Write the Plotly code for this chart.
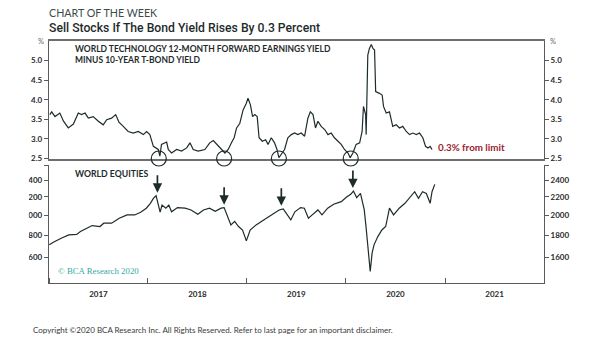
import math
import pandas as pd
import plotly.graph_objects as go

# ---------------- data ----------------
yield_dates = [
    "2017-01-04", "2017-01-11", "2017-01-23", "2017-02-10", "2017-02-23", "2017-03-13",
    "2017-04-01", "2017-04-19", "2017-05-01", "2017-05-14", "2017-05-26", "2017-06-13",
    "2017-07-02", "2017-07-20", "2017-08-02", "2017-08-20", "2017-09-04", "2017-09-16",
    "2017-10-02", "2017-10-20", "2017-11-08", "2017-11-26", "2017-12-15", "2017-12-27",
    "2018-01-08", "2018-01-21", "2018-02-08", "2018-02-14", "2018-02-20", "2018-03-11",
    "2018-03-17", "2018-03-29", "2018-04-17", "2018-05-05", "2018-05-24", "2018-06-05",
    "2018-06-17", "2018-07-05", "2018-07-30", "2018-08-17", "2018-08-30", "2018-09-11",
    "2018-09-30", "2018-10-12", "2018-10-24", "2018-11-05", "2018-11-15", "2018-11-24",
    "2018-12-06", "2018-12-18", "2018-12-30", "2019-01-05", "2019-01-14", "2019-01-22",
    "2019-01-30", "2019-02-08", "2019-02-15", "2019-02-27", "2019-03-11", "2019-03-20",
    "2019-04-01", "2019-04-13", "2019-04-22", "2019-04-29", "2019-05-08", "2019-05-20",
    "2019-06-01", "2019-06-14", "2019-06-26", "2019-07-08", "2019-07-20", "2019-08-02",
    "2019-08-14", "2019-08-23", "2019-09-02", "2019-09-11", "2019-09-20", "2019-10-02",
    "2019-10-15", "2019-10-27", "2019-11-08", "2019-11-20", "2019-12-03", "2019-12-15",
    "2019-12-27", "2020-01-09", "2020-01-17", "2020-01-27", "2020-02-08", "2020-02-21",
    "2020-03-01", "2020-03-06", "2020-03-14", "2020-03-16", "2020-03-22", "2020-03-28",
    "2020-04-04", "2020-04-10", "2020-04-16", "2020-04-20", "2020-05-02", "2020-05-14",
    "2020-05-19", "2020-05-29", "2020-06-10", "2020-06-16", "2020-06-22", "2020-07-05",
    "2020-07-17", "2020-07-29", "2020-08-11", "2020-08-23", "2020-09-04", "2020-09-17",
    "2020-09-29", "2020-10-11", "2020-10-21", "2020-10-30", "2020-11-07", "2020-11-14",
]
yield_spread = [
    3.62, 3.69, 3.57, 3.66, 3.46, 3.28,
    3.38, 3.66, 3.62, 3.66, 3.53, 3.57,
    3.45, 3.36, 3.49, 3.53, 3.62, 3.43,
    3.32, 3.19, 3.15, 3.19, 3.11, 3.19,
    3.11, 2.81, 2.73, 2.56, 2.86, 2.92,
    2.73, 2.64, 2.73, 2.69, 2.77, 2.90,
    2.73, 2.69, 2.73, 2.90, 2.96, 2.86,
    2.73, 2.64, 2.73, 2.90, 3.03, 3.28,
    3.40, 3.74, 3.91, 4.04, 3.87, 3.57,
    3.62, 3.57, 3.03, 2.94, 2.98, 2.86,
    3.03, 2.90, 2.73, 2.52, 2.60, 2.73,
    3.03, 3.11, 3.15, 3.11, 3.15, 3.07,
    3.53, 3.69, 3.62, 3.28, 3.45, 3.32,
    3.24, 3.11, 3.15, 3.03, 2.94, 2.86,
    2.73, 2.64, 2.52, 2.64, 2.86, 2.90,
    3.19, 3.83, 3.62, 3.11, 5.14, 5.31,
    5.41, 5.31, 5.27, 4.21, 4.17, 4.12,
    3.83, 3.66, 3.69, 3.53, 3.32, 3.36,
    3.28, 3.32, 3.19, 3.11, 3.15, 3.11,
    3.15, 3.03, 2.81, 2.77, 2.81, 2.73,
]

equity_dates = [
    "2017-01-02", "2017-01-17", "2017-02-15", "2017-03-15", "2017-04-13", "2017-04-27",
    "2017-05-26", "2017-06-09", "2017-07-08", "2017-07-22", "2017-08-20", "2017-09-17",
    "2017-10-16", "2017-11-13", "2017-12-05", "2017-12-26", "2018-01-10", "2018-01-21",
    "2018-01-31", "2018-02-07", "2018-02-15", "2018-02-22", "2018-03-08", "2018-03-19",
    "2018-03-29", "2018-04-20", "2018-05-18", "2018-06-09", "2018-07-04", "2018-07-25",
    "2018-08-16", "2018-09-06", "2018-09-28", "2018-10-09", "2018-10-19", "2018-11-03",
    "2018-11-17", "2018-12-01", "2018-12-16", "2018-12-30", "2019-01-13", "2019-02-04",
    "2019-03-04", "2019-04-02", "2019-04-30", "2019-05-15", "2019-05-29", "2019-06-12",
    "2019-06-27", "2019-07-18", "2019-08-01", "2019-08-16", "2019-08-30", "2019-09-20",
    "2019-10-05", "2019-10-26", "2019-11-17", "2019-12-15", "2020-01-05", "2020-01-19",
    "2020-01-29", "2020-02-10", "2020-02-24", "2020-03-09", "2020-03-16", "2020-03-24",
    "2020-03-31", "2020-04-07", "2020-04-14", "2020-04-28", "2020-05-13", "2020-05-27",
    "2020-06-10", "2020-06-25", "2020-07-16", "2020-08-06", "2020-08-28", "2020-09-11",
    "2020-09-25", "2020-10-10", "2020-10-24", "2020-11-07", "2020-11-14", "2020-11-24",
]
world_equities = [
    1710, 1734, 1771, 1802, 1807, 1834,
    1873, 1892, 1883, 1916, 1916, 1966,
    2001, 2001, 2030, 2073, 2127, 2183,
    2213, 2127, 2030, 2108, 2073, 2108,
    2034, 2079, 2073, 2054, 2008, 2054,
    2073, 2040, 2073, 2079, 2001, 1899,
    1935, 1883, 1849, 1746, 1849, 1899,
    1949, 2001, 2054, 2066, 2001, 1949,
    2034, 2079, 2073, 1966, 2001, 2054,
    2001, 2073, 2116, 2145, 2201, 2229,
    2268, 2191, 2240, 2054, 1866, 1651,
    1487, 1640, 1710, 1786, 1849, 1883,
    2073, 2001, 2073, 2127, 2213, 2260,
    2183, 2260, 2240, 2127, 2260, 2349,
]

signal_circle_dates = ["2018-02-10", "2018-10-09", "2019-04-29", "2020-01-19"]
signal_arrow_dates = ["2018-02-05", "2018-10-09", "2019-05-08", "2020-01-27"]

spread_ticks = [2.5, 3.0, 3.5, 4.0, 4.5, 5.0]
spread_ticktext = ["2.5", "3.0", "3.5", "4.0", "4.5", "5.0"]
equity_ticks = [1600, 1800, 2000, 2200, 2400, 2600]
equity_ticktext = ["1600", "1800", "2000", "2200", "2400", ""]
x_range = ["2017-01-01", "2022-01-01"]
spread_range = [2.5, 5.5]
equity_range = [1400, 2600]

# ---------------- layout helpers ----------------
W, H = 605, 341
ML, MR, MT, MB = 49, 61, 41, 58
PW, PH = W - ML - MR, H - MT - MB


def PX(px):
    return (px - ML) / PW


def PY(py):
    return (H - MB - py) / PH


INK = "#1e2b2b"
AX = "#5a5a5a"
TICKFONT = dict(family="Lato", size=8, color="#2a2a2a", weight="bold")

fig = go.Figure()
fig.add_trace(go.Scatter(x=yield_dates, y=yield_spread, xaxis="x", yaxis="y", mode="lines",
                         line=dict(color=INK, width=1.2), hoverinfo="skip", showlegend=False))
fig.add_trace(go.Scatter(x=yield_dates, y=yield_spread, xaxis="x", yaxis="y3", mode="lines",
                         line=dict(width=0), opacity=0, hoverinfo="skip", showlegend=False))
fig.add_trace(go.Scatter(x=equity_dates, y=world_equities, xaxis="x2", yaxis="y2", mode="lines",
                         line=dict(color=INK, width=1.2), hoverinfo="skip", showlegend=False))
fig.add_trace(go.Scatter(x=equity_dates, y=world_equities, xaxis="x2", yaxis="y4", mode="lines",
                         line=dict(width=0), opacity=0, hoverinfo="skip", showlegend=False))

top_dom = [PY(158.5), 1]
bot_dom = [0, PY(165)]

fig.update_layout(
    width=W, height=H, margin=dict(l=ML, r=MR, t=MT, b=MB),
    paper_bgcolor="white", plot_bgcolor="white",
    xaxis=dict(domain=[0, 1], anchor="y", range=x_range, type="date", showline=True,
               mirror=True, linecolor="#6e6e6e", linewidth=1.6, showgrid=False,
               zeroline=False, showticklabels=False, ticks=""),
    yaxis=dict(domain=top_dom, anchor="x", range=spread_range, tickvals=spread_ticks,
               ticktext=spread_ticktext, showline=True, mirror=True, linecolor=AX,
               linewidth=1.4, ticks="outside", ticklen=4, tickcolor=AX, tickwidth=1.2,
               showgrid=False, zeroline=False, tickfont=TICKFONT),
    yaxis3=dict(overlaying="y", side="right", anchor="x", range=spread_range,
                tickvals=spread_ticks, ticktext=spread_ticktext, showline=False,
                ticks="outside", ticklen=4, tickcolor=AX, tickwidth=1.2, showgrid=False,
                zeroline=False, tickfont=TICKFONT),
    xaxis2=dict(domain=[0, 1], anchor="y2", range=x_range, type="date", showline=True,
                linecolor=AX, linewidth=1.4, showgrid=False, zeroline=False,
                ticks="inside", ticklen=5, tickcolor=AX, tickwidth=1.2,
                tick0="2017-01-01", dtick="M12", tickformat="%Y", ticklabelmode="period",
                ticklabelstandoff=3, tickfont=TICKFONT),
    yaxis2=dict(domain=bot_dom, anchor="x2", type="log",
                range=[math.log10(equity_range[0]), math.log10(equity_range[1])],
                tickvals=equity_ticks, ticktext=equity_ticktext, showline=True, mirror=True,
                linecolor=AX, linewidth=1.4, ticks="outside", ticklen=4, tickcolor=AX,
                tickwidth=1.2, showgrid=False, zeroline=False, tickfont=TICKFONT),
    yaxis4=dict(overlaying="y2", side="right", anchor="x2", type="log",
                range=[math.log10(equity_range[0]), math.log10(equity_range[1])],
                tickvals=equity_ticks, ticktext=equity_ticktext, showline=False,
                ticks="outside", ticklen=4, tickcolor=AX, tickwidth=1.2, showgrid=False,
                zeroline=False, tickfont=TICKFONT),
)

shapes = []
for d in signal_circle_dates:
    shapes.append(dict(type="circle", xref="x", yref="paper", xsizemode="pixel",
                       ysizemode="pixel", xanchor=d, yanchor=top_dom[0], x0=-7.5, x1=7.5,
                       y0=-7.5, y1=7.5, line=dict(color=INK, width=1.2), layer="above"))
# white mask that hides the left edge of the lower panel labels, as in the reference
shapes.append(dict(type="rect", xref="paper", yref="paper", x0=PX(-2), x1=PX(28.8),
                   y0=PY(292), y1=PY(162), fillcolor="white", line=dict(width=0),
                   layer="above"))
fig.update_layout(shapes=shapes)

eq = pd.Series(world_equities, index=pd.to_datetime(equity_dates))
ann = []
for d in signal_arrow_dates:
    t = pd.Timestamp(d)
    win = eq[(eq.index >= t - pd.Timedelta(days=12)) & (eq.index <= t + pd.Timedelta(days=12))]
    ann.append(dict(x=d, y=math.log10(win.max()), xref="x2", yref="y2", text="",
                    showarrow=True, arrowhead=2, arrowsize=1.1, arrowwidth=1.7,
                    arrowcolor=INK, ax=0, ay=-22, standoff=3))


def label(px, py, text, size, color, family="Lato", weight="normal", xanchor="left",
          align="left"):
    ann.append(dict(x=PX(px), y=PY(py), xref="paper", yref="paper", text=text,
                    showarrow=False, xanchor=xanchor, yanchor="middle", align=align,
                    borderpad=0,
                    font=dict(family=family, size=size, color=color, weight=weight)))


label(48, 12.7, "CHART OF THE WEEK", 10.7, "#3c4b4b")
label(48, 28, "Sell Stocks If The Bond Yield Rises By 0.3 Percent", 12.2, "#1e2b2b",
      family="Roboto", weight=500)
label(74, 54.8, "WORLD TECHNOLOGY 12-MONTH FORWARD EARNINGS YIELD<br>MINUS 10-YEAR T-BOND YIELD",
      8.5, "#1e2b2b", weight="bold")
label(74, 173.5, "WORLD EQUITIES", 8.7, "#1e2b2b", weight="bold")
label(57, 271, "© BCA Research 2020", 8.8, "#35aaa0", family="Liberation Serif")
label(437, 147, "0.3% from limit", 9.8, "#9b1c31", weight="bold")
label(32, 330, "Copyright ©2020 BCA Research Inc. All Rights Reserved. Refer to last page for an important disclaimer.",
      8.0, "#3a3a3a")
label(41, 41, "%", 7.5, "#6a6a6a", xanchor="center")
label(553, 41, "%", 7.5, "#6a6a6a", xanchor="center")
fig.update_layout(annotations=ann)

fig.write_html("out.html")
